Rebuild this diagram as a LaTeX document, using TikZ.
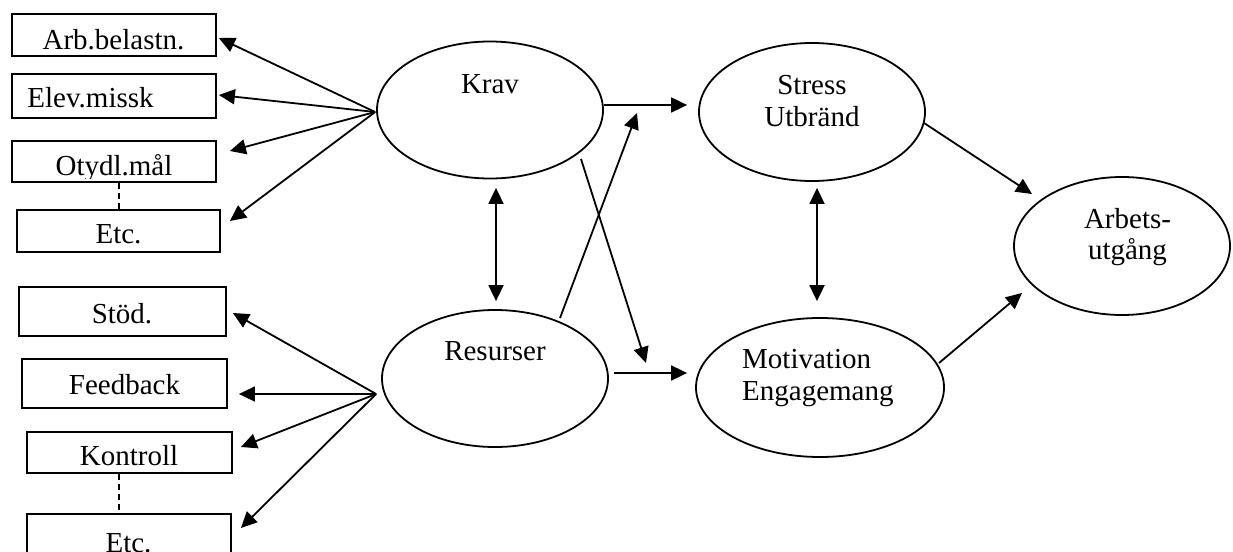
\documentclass[tikz,border=0pt]{standalone}
\usepackage{fontspec}
\setmainfont{Liberation Serif}
\usetikzlibrary{arrows.meta,shapes.geometric,calc}
\begin{document}
\begin{tikzpicture}[x=1pt,y=-1pt,
  lw/.style={line width=1.8pt},
  box/.style={draw, lw, rectangle, inner sep=0pt},
  oval/.style={draw, lw, ellipse, inner sep=0pt},
  txt/.style={inner sep=0pt, anchor=base, font=\fontsize{29}{32}\selectfont},
  arr/.style={lw, -{Triangle[length=16pt,width=15pt]}},
  darr/.style={lw, {Triangle[length=16pt,width=15pt]}-{Triangle[length=16pt,width=15pt]}},
  dashline/.style={lw, dash pattern=on 6pt off 4pt}]
\useasboundingbox (0,0) rectangle (1233,551);

% left boxes
\node[box, minimum width=204pt, minimum height=42pt] (arb) at (114,35) {};
\node[box, minimum width=204pt, minimum height=44pt] (elev) at (114,96) {};
\node[box, minimum width=204pt, minimum height=41pt] (otv) at (114,161.5) {};
\node[box, minimum width=203pt, minimum height=42pt] (etc1) at (118.5,231) {};
\node[box, minimum width=207pt, minimum height=49pt] (stod) at (122.5,311.5) {};
\node[box, minimum width=205pt, minimum height=49pt] (feed) at (124.5,383.5) {};
\node[box, minimum width=205pt, minimum height=41pt] (kont) at (129.5,452.5) {};
\node[box, minimum width=204pt, minimum height=51pt] (etc2) at (129,539.5) {};

\node[txt] (arbT) at (113.5,50) {Arb.belastn.};
\node[txt] (elevT) at (90.5,107) {Elev.missk};
\begin{scope}
  \clip ($(otv.south west)+(0,-4.5)$) rectangle (otv.north east);
  \node[txt] (otvT) at (114,175.5) {Otydl.mål};
\end{scope}
\node[txt] (etc1T) at (118.5,243) {Etc.};
\node[txt] (stodT) at (122,323) {Stöd.};
\node[txt] (feedT) at (124.5,394) {Feedback};
\node[txt] (kontT) at (129,465) {Kontroll};
\node[txt] (etc2T) at (128.5,552) {Etc.};

% ellipses
\node[oval, minimum width=226pt, minimum height=137pt] (krav) at (490,110) {};
\node[oval, minimum width=226pt, minimum height=137pt] (res) at (495,378.5) {};
\node[oval, minimum width=226pt, minimum height=138pt] (stress) at (812,112) {};
\node[oval, minimum width=248pt, minimum height=139pt] (mot) at (820,387.5) {};
\node[oval, minimum width=216pt, minimum height=138pt] (out) at (1122,246) {};

\node[txt] (kravT) at (490,93) {Krav};
\node[txt] (resT) at (495,360) {Resurser};
\node[txt] (stressT) at (812,94) {\begin{tabular}[t]{@{}c@{}}Stress\\Utbränd\end{tabular}};
\node[txt, anchor=base west] (motT) at (742,368) {\begin{tabular}[t]{@{}l@{}}Motivation\\Engagemang\end{tabular}};
\node[txt] (outT) at (1127.5,228) {\renewcommand\arraystretch{0.97}\begin{tabular}[t]{@{}c@{}}Arbets-\\utgång\end{tabular}};

% fan points
\coordinate (kravfan) at ($(krav.west)+(-1,2)$);
\coordinate (resfan) at ($(res.west)+(-5,15.5)$);

% fan arrows
\draw[arr] (kravfan) -- ($(arb.east)+(2,3)$);
\draw[arr] (kravfan) -- ($(elev.east)+(2,-1)$);
\draw[arr] (kravfan) -- ($(otv.east)+(13,-10.5)$);
\draw[arr] (kravfan) -- ($(etc1.east)+(9,-10)$);
\draw[arr] (resfan) -- ($(stod.east)+(6,1.5)$);
\draw[arr] (resfan) -- ($(feed.east)+(11,10.5)$);
\draw[arr] (resfan) -- ($(kont.east)+(8,-5.5)$);
\draw[arr] (resfan) -- ($(etc2.east)+(9,-11.5)$);

% dashed links
\draw[dashline] ($(otv.south)+(5,0)$) -- ($(etc1.north)+(0.5,0)$);
\draw[dashline] ($(kont.south)+(-10.5,0)$) -- ($(etc2.north)+(-10,0)$);

% main arrows
\draw[darr] ($(krav.south)+(6,8.5)$) -- ($(res.north)+(1,-8)$);
\draw[arr] ($(krav.east)+(0,-5)$) -- ($(stress.west)+(-11,-7)$);
\draw[arr] ($(res.east)+(5,-5.5)$) -- ($(mot.west)+(-8,-14.5)$);
\draw[arr] ($(res.center)+(65,-60.5)$) -- ($(stress.center)+(-175,1)$);
\draw[arr] ($(krav.center)+(91,49)$) -- ($(mot.center)+(-174,-24.5)$);
\draw[darr] ($(stress.south)+(5,6)$) -- ($(mot.north)+(-3,-16)$);
\draw[arr] ($(stress.center)+(112,11)$) -- ($(out.center)+(-90,-52)$);
\draw[arr] ($(mot.center)+(119,-24.5)$) -- ($(out.center)+(-100,47)$);
\end{tikzpicture}
\end{document}
